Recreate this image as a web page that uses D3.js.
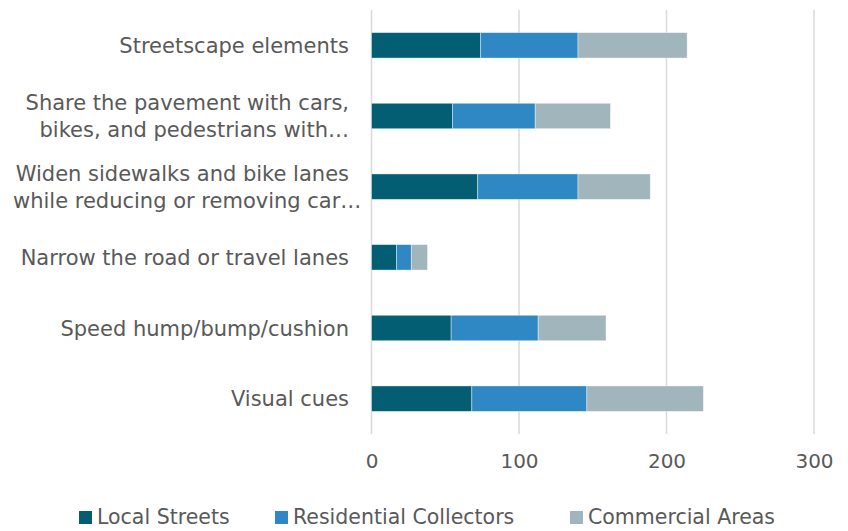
<!DOCTYPE html>
<html>
<head>
<meta charset="utf-8">
<script src="https://cdn.jsdelivr.net/npm/d3@7"></script>
<style>
  body { margin: 0; background: #fff; }
  text { font-family: "DejaVu Sans", sans-serif; fill: #595959; }
</style>
</head>
<body>
<div id="chart"></div>
<script>
// categories, top to bottom, with line breaks as Excel wrapped them
const categories = [
    ['Streetscape elements'],
    ['Share the pavement with cars,', 'bikes, and pedestrians with…'],
    ['Widen sidewalks and bike lanes', 'while reducing or removing car…'],
    ['Narrow the road or travel lanes'],
    ['Speed hump/bump/cushion'],
    ['Visual cues']
];
const seriesNames = ['Local Streets', 'Residential Collectors', 'Commercial Areas'];
const localStreets = [74, 55, 72, 17, 54, 68];
const residentialCollectors = [66, 56, 68, 10, 59, 78];
const commercialAreas = [74, 51, 49, 11, 46, 79];
const xTicks = [0, 100, 200, 300];
const colors = ['#035e73', '#2f88c3', '#a1b5bd'];

const width = 848, height = 531;
const margin = { top: 10, right: 34, bottom: 97, left: 371.5 };

const rows = categories.map((c, i) => ({
    key: i,
    lines: c,
    'Local Streets': localStreets[i],
    'Residential Collectors': residentialCollectors[i],
    'Commercial Areas': commercialAreas[i]
}));

const svg = d3.select('#chart')
    .append('svg')
    .attr('width', width)
    .attr('height', height);

let x = d3.scaleLinear()
    .domain([0, 300])
    .range([margin.left, width - margin.right]);
let y = d3.scaleBand()
    .domain(rows.map(d => d.key))
    .range([margin.top, height - margin.bottom])
    .paddingInner(0.64)
    .paddingOuter(0.32);
let color = d3.scaleOrdinal().domain(seriesNames).range(colors);

// gridlines
svg.append('g')
    .selectAll('line')
    .data(xTicks)
    .enter()
    .append('line')
    .attr('x1', d => x(d)).attr('x2', d => x(d))
    .attr('y1', margin.top).attr('y2', height - margin.bottom)
    .attr('stroke', '#d9d9d9')
    .attr('stroke-width', 1.5);

// stacked bars
const stacked = d3.stack().keys(seriesNames)(rows);
svg.append('g')
    .selectAll('g')
    .data(stacked)
    .enter()
    .append('g')
    .attr('fill', d => color(d.key))
    .selectAll('rect')
    .data(d => d)
    .enter()
    .append('rect')
    .attr('x', d => x(d[0]))
    .attr('y', d => y(d.data.key))
    .attr('width', d => x(d[1]) - x(d[0]))
    .attr('height', y.bandwidth())
    .attr('stroke', '#ffffff')
    .attr('stroke-opacity', 0.5)
    .attr('stroke-width', 0.8);

// x axis tick labels
const xAxis = d3.axisBottom(x).tickValues(xTicks).tickSize(0).tickPadding(0);
const gx = svg.append('g')
    .attr('transform', `translate(0,${height - margin.bottom + 20})`)
    .call(xAxis);
gx.select('.domain').remove();
gx.selectAll('text')
    .attr('font-size', 20)
    .attr('fill', '#595959')
    .style('font-family', '"DejaVu Sans", sans-serif');

// category labels (right aligned; a line too long for the space starts at the left edge)
const lineH = 27;
const labelRight = 349, labelLeft = 13;
const labels = svg.append('g')
    .selectAll('text')
    .data(rows)
    .enter()
    .append('text')
    .attr('font-size', 21)
    .attr('y', d => y(d.key) + y.bandwidth() / 2 - (d.lines.length - 1) * lineH / 2);
labels.selectAll('tspan')
    .data(d => d.lines)
    .enter()
    .append('tspan')
    .attr('text-anchor', 'end')
    .attr('x', labelRight)
    .attr('dy', (d, i) => i === 0 ? '0.36em' : lineH)
    .text(d => d)
    .each(function () {
        if (this.getComputedTextLength() > labelRight - labelLeft) {
            d3.select(this).attr('text-anchor', 'start').attr('x', labelLeft);
        }
    });

// legend
const legendX = [79, 275, 570];
const legend = svg.append('g')
    .selectAll('g')
    .data(seriesNames)
    .enter()
    .append('g')
    .attr('transform', (d, i) => `translate(${legendX[i]},${height - 15})`);
legend.append('rect')
    .attr('x', 0).attr('y', -5)
    .attr('width', 13).attr('height', 13)
    .attr('fill', d => color(d));
legend.append('text')
    .attr('x', 18)
    .attr('y', 0)
    .attr('dy', '0.38em')
    .attr('font-size', 20.5)
    .text(d => d);
</script>
</body>
</html>
